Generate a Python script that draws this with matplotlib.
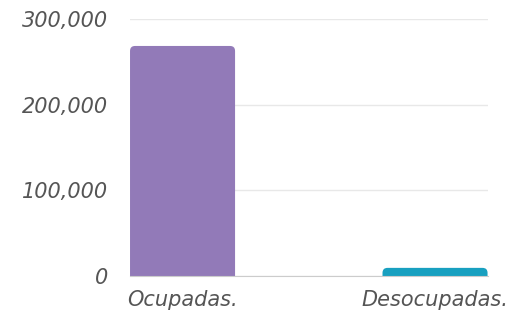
import matplotlib.pyplot as plt
from matplotlib.ticker import FuncFormatter
from matplotlib.patches import FancyBboxPatch

# datos
categorias = ["Ocupadas.", "Desocupadas."]
valores = [268500, 9500]
colores = ["#927ab8", "#18a0c0"]

plt.rcParams['font.family'] = ['DejaVu Sans']

fig = plt.figure(figsize=(5.17, 3.11), dpi=100)
ax = fig.add_axes([0.2515, 0.1125, 0.6925, 0.8265])

x = range(len(categorias))
barras = ax.bar(x, valores, width=0.416, color=colores, zorder=3)

ax.set_xlim(-0.208, 1.21)
ax.set_ylim(0, 300000)

# esquinas redondeadas arriba (la parte de abajo queda recortada por el eje)
px_x = 1 / 252.5          # unidades x por pixel
px_y = 100000 / 86.0      # unidades y por pixel
radio = 5
for r in barras:
    r.set_visible(False)
    extra = radio * px_y
    p = FancyBboxPatch((r.get_x(), r.get_y() - extra), r.get_width(), r.get_height() + extra,
                       boxstyle=f"round,pad=0,rounding_size={radio * px_x}",
                       mutation_aspect=px_y / px_x,
                       facecolor=r.get_facecolor(), edgecolor='none', zorder=3)
    ax.add_patch(p)

ax.set_yticks([0, 100000, 200000, 300000])
ax.yaxis.set_major_formatter(FuncFormatter(lambda v, p: f"{int(v):,}"))
ax.set_xticks(list(x))
ax.set_xticklabels(categorias)

# grilla y bordes
ax.grid(axis='y', color='#e8e8e8', linewidth=1, zorder=0)
for s in ['top', 'right', 'left']:
    ax.spines[s].set_visible(False)
ax.spines['bottom'].set_color('#cccccc')
ax.spines['bottom'].set_zorder(4)
ax.tick_params(length=0)
ax.tick_params(axis='y', pad=16)
ax.tick_params(axis='x', pad=10)
for lbl in ax.get_yticklabels() + ax.get_xticklabels():
    lbl.set_fontstyle('oblique')
    lbl.set_fontsize(15)
    lbl.set_color('#555555')

fig.savefig("out.png", dpi=100)
